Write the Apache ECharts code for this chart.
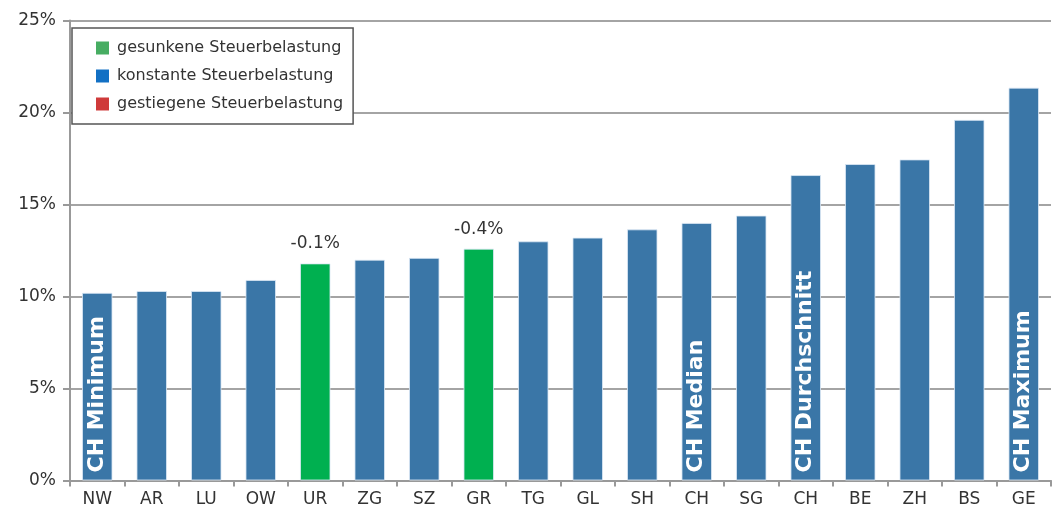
<!DOCTYPE html>
<html>
<head>
<meta charset="utf-8">
<script src="https://cdn.jsdelivr.net/npm/echarts@6/dist/echarts.min.js"></script>
<style>html,body{margin:0;padding:0;background:#fff}#c{width:1054px;height:527px}</style>
</head>
<body>
<div id="c"></div>
<script>
const categories = ['NW','AR','LU','OW','UR','ZG','SZ','GR','TG','GL','SH','CH','SG','CH','BE','ZH','BS','GE'];
const values = [10.2,10.3,10.3,10.9,11.8,12.0,12.1,12.6,13.0,13.2,13.65,14.0,14.4,16.6,17.2,17.45,19.6,21.35];
// g = gesunken, k = konstant, s = gestiegen
const status = ['k','k','k','k','g','k','k','g','k','k','k','k','k','k','k','k','k','k'];
const changeLabels = ['','','','','-0.1%','','','-0.4%','','','','','','','','','',''];
const barLabels = ['CH Minimum','','','','','','','','','','','CH Median','','CH Durchschnitt','','','','CH Maximum'];
const seriesNames = ['gesunkene Steuerbelastung','konstante Steuerbelastung','gestiegene Steuerbelastung'];
const yTicks = [0,5,10,15,20,25];

const barColors = {g:'#00B050', k:'#3A76A7', s:'#C83232'};
const legendColors = ['#47AD62','#1270C4','#CF3A3A'];
const FONT = 'DejaVu Sans, sans-serif';

function buildData(code){
  return values.map((v,i)=>{
    if (status[i] !== code) return '-';
    const item = {value: v};
    if (changeLabels[i]) {
      item.label = {show:true, position:'top', distance:11, formatter: changeLabels[i],
        color:'#333', fontSize:17, fontFamily:FONT};
    } else if (barLabels[i]) {
      item.label = {show:true, position:'insideBottom', distance:8, rotate:90, align:'left',
        verticalAlign:'middle', formatter: barLabels[i], color:'#fff', fontSize:22,
        fontWeight:'bold', fontFamily:FONT};
    }
    return item;
  });
}

const codes = ['g','k','s'];
const series = codes.map((c,idx)=>({
  name: seriesNames[idx],
  type:'bar',
  stack:'all',
  barWidth:'56%',
  itemStyle:{color: barColors[c], borderColor:'rgba(220,232,245,0.8)', borderWidth:1},
  data: buildData(c)
}));

const chart = echarts.init(document.getElementById('c'), null, {renderer:'canvas'});
chart.setOption({
  animation:false,
  backgroundColor:'#fff',
  grid:{left:70, right:3, top:20.5, bottom:46.5, containLabel:false},
  legend:{
    orient:'vertical', left:72, top:28,
    data: seriesNames.map((n,i)=>({name:n, icon:'rect', itemStyle:{color:legendColors[i], borderWidth:0}})),
    itemWidth:13, itemHeight:13, itemGap:12,
    padding:[12,10,12,24],
    backgroundColor:'#fff', borderColor:'#555', borderWidth:1.5, borderRadius:0,
    selectedMode:false,
    textStyle:{color:'#333', fontSize:16, lineHeight:16, padding:[0,0,0,3], fontFamily:FONT}
  },
  xAxis:{
    type:'category', data:categories,
    axisLine:{lineStyle:{color:'#999', width:2}},
    axisTick:{show:true, length:6, lineStyle:{color:'#999', width:2}},
    axisLabel:{color:'#333', fontSize:17, margin:11, fontFamily:FONT, interval:0}
  },
  yAxis:{
    type:'value', min:yTicks[0], max:yTicks[yTicks.length-1], interval:5,
    axisLine:{show:true, lineStyle:{color:'#999', width:2}},
    axisTick:{show:true, length:7, lineStyle:{color:'#999', width:2}},
    axisLabel:{color:'#333', fontSize:17, margin:14, formatter:'{value}%', fontFamily:FONT},
    splitLine:{lineStyle:{color:'#a4a4a4', width:2}}
  },
  series: series
});
</script>
</body>
</html>
